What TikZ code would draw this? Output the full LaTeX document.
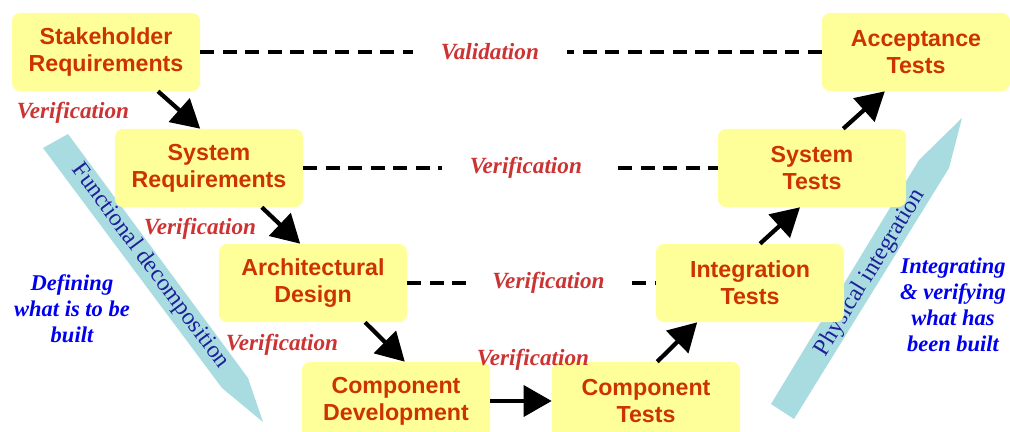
\documentclass[tikz,border=0pt]{standalone}
\usepackage{fontspec}
\setmainfont{Liberation Serif}
\setsansfont{Liberation Sans}
\usetikzlibrary{arrows.meta}

\definecolor{boxfill}{HTML}{FFFF99}
\definecolor{boxtext}{HTML}{CC3300}
\definecolor{checktext}{HTML}{CC3333}
\definecolor{sidetext}{HTML}{0000EE}
\definecolor{stripfill}{HTML}{A8DCE0}
\definecolor{striptext}{HTML}{1F1F99}

\begin{document}
\begin{tikzpicture}[x=0.025cm,y=-0.025cm,
        flow/.style={line width=3pt,-{Triangle[length=20pt,width=22pt]}},
        link/.style={line width=2.8pt,dash pattern=on 10pt off 6pt},
        check/.style={font=\bfseries\itshape\fontsize{16.5}{18}\selectfont,text=checktext},
        side/.style={font=\bfseries\itshape\fontsize{16}{18.5}\selectfont,text=sidetext,align=center},
        stripnote/.style={font=\fontsize{17}{20}\selectfont,text=striptext}]
            \useasboundingbox (0,0) rectangle (1010,432);
            \clip (0,0) rectangle (1010,432);
            % the two broad arrows
            \fill[stripfill] (43,148) -- (68,134) -- (248,378) -- (263,422) -- (222,388) -- cycle;
            \fill[stripfill] (771,404) -- (794,419) -- (949,168) -- (962,118) -- (919,160) -- cycle;
            \node[stripnote,rotate=-53.5] (fd) at (150,266) {Functional decomposition};
            \node[stripnote,rotate=58.5] (pi) at (870,273) {Physical integration};
            \begin{scope}[every node/.style={fill=boxfill,rounded corners=0.2cm,minimum width=4.7cm,minimum height=1.95cm,align=center,text=boxtext,font=\sffamily\bfseries\fontsize{16.5}{19}\selectfont}]
                \node (sr) at (106,52) {Stakeholder\\Requirements};
                \node (sys) at (209,168) {System\\Requirements};
                \node (arch) at (313,283) {Architectural\\Design};
                \node (cd) at (396,401) {Component\\Development};
                \node (ct) at (646,401) {Component\\Tests};
                \node (it) at (750,283) {Integration\\Tests};
                \node (st) at (812,168) {System\\Tests};
                \node (acc) at (916,52) {Acceptance\\Tests};
            \end{scope}
            \draw (sr) edge [link] node[check,fill=white,pos=0.466,inner xsep=20pt] {Validation} (acc);
            \draw (sys) edge [link] node[check,fill=white,pos=0.537,inner xsep=20pt] {Verification} (st);
            \draw (arch) edge [link] node[check,fill=white,pos=0.568,inner xsep=15pt] {Verification} (it);
            \draw[flow] ([xshift=1.3cm]sr.south) -- ([xshift=-0.22cm]sys.north);
            \draw[flow] ([xshift=1.32cm]sys.south) -- ([xshift=-0.32cm]arch.north);
            \draw[flow] ([xshift=1.3cm]arch.south) -- ([xshift=0.22cm]cd.north);
            \draw[flow] (cd) -- (ct);
            \draw[flow] ([xshift=0.28cm]ct.north) -- ([xshift=-1.32cm]it.south);
            \draw[flow] ([xshift=0.25cm]it.north) -- ([xshift=-0.3cm]st.south);
            \draw[flow] ([xshift=0.78cm]st.north) -- ([xshift=-0.78cm]acc.south);
            \node[check] (v1) at (73,113) {Verification};
            \node[check] (v2) at (200,229) {Verification};
            \node[check] (v3) at (282,345) {Verification};
            \node[check] (v4) at (533,360) {Verification};
            \node[side] (def) at (72,309) {Defining\\what is to be\\built};
            \node[side] (intg) at (953,305) {Integrating\\\& verifying\\what has\\been built};
        \end{tikzpicture}
\end{document}
